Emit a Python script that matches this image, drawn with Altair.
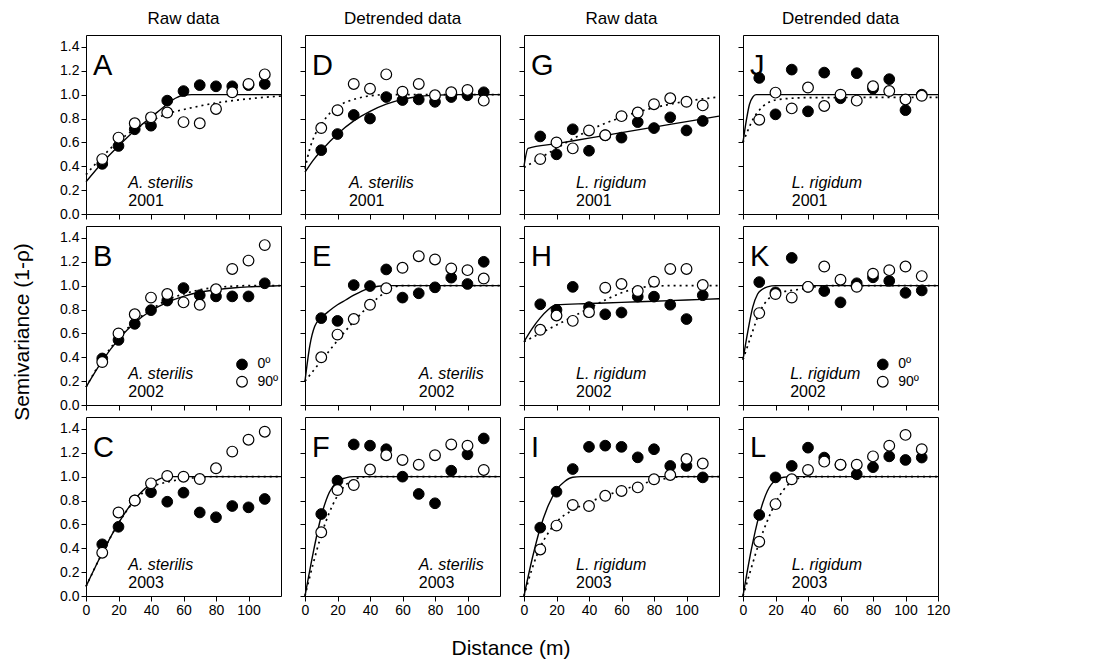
import altair as alt
import pandas as pd

# ---------------- data ----------------
LAGS = [10, 20, 30, 40, 50, 60, 70, 80, 90, 100, 110]

A_FILLED = [0.42, 0.57, 0.71, 0.74, 0.95, 1.03, 1.08, 1.07, 1.07, 1.08, 1.09]
A_OPEN = [0.46, 0.64, 0.76, 0.81, 0.85, 0.77, 0.76, 0.88, 1.02, 1.09, 1.17]
A_SOLID = [(0, 0.27), (10, 0.43), (20, 0.57), (30, 0.70), (40, 0.81), (50, 0.92), (55, 0.97), (60, 0.995), (65, 1.0), (120, 1.0)]
A_DOTTED = [(0, 0.33), (10, 0.48), (20, 0.61), (30, 0.71), (40, 0.78), (50, 0.84), (60, 0.875), (70, 0.905), (80, 0.93), (90, 0.95), (100, 0.965), (110, 0.978), (120, 0.988)]

B_FILLED = [0.39, 0.545, 0.68, 0.795, 0.875, 0.98, 0.92, 0.91, 0.91, 0.91, 1.02]
B_OPEN = [0.36, 0.60, 0.76, 0.90, 0.93, 0.86, 0.84, 0.97, 1.14, 1.21, 1.34]
B_SOLID = [(0, 0.15), (10, 0.37), (20, 0.55), (30, 0.69), (40, 0.79), (50, 0.86), (60, 0.91), (70, 0.945), (80, 0.965), (90, 0.98), (100, 0.99), (110, 0.995), (120, 1.0)]
B_DOTTED = [(0, 0.15), (10, 0.38), (20, 0.56), (30, 0.70), (40, 0.80), (50, 0.88), (60, 0.93), (70, 0.965), (80, 0.985), (90, 0.995), (100, 1.0), (120, 1.0)]

C_FILLED = [0.433, 0.58, 0.80, 0.87, 0.79, 0.866, 0.70, 0.66, 0.754, 0.743, 0.813]
C_OPEN = [0.363, 0.70, 0.80, 0.944, 1.006, 1.0, 0.98, 1.07, 1.21, 1.31, 1.377]
C_SOLID = [(0, 0.08), (10, 0.36), (20, 0.61), (30, 0.81), (40, 0.94), (45, 0.98), (50, 1.0), (120, 1.0)]
C_DOTTED = [(0, 0.08), (10, 0.36), (20, 0.61), (30, 0.80), (40, 0.91), (50, 0.955), (60, 0.98), (70, 0.995), (80, 1.0), (120, 1.0)]

D_FILLED = [0.535, 0.67, 0.83, 0.80, 0.98, 0.955, 0.96, 0.94, 0.98, 0.995, 1.02]
D_OPEN = [0.72, 0.87, 1.09, 1.05, 1.17, 1.025, 1.09, 0.995, 1.02, 1.04, 0.95]
D_SOLID = [(0, 0.35), (5, 0.45), (10, 0.53), (20, 0.67), (30, 0.78), (40, 0.86), (50, 0.92), (60, 0.96), (70, 0.985), (80, 0.995), (90, 1.0), (120, 1.0)]
D_DOTTED = [(0, 0.38), (3, 0.55), (6, 0.66), (10, 0.75), (15, 0.84), (20, 0.9), (30, 0.96), (40, 0.99), (50, 1.0), (120, 1.0)]

E_FILLED = [0.728, 0.705, 1.005, 0.997, 1.136, 0.90, 0.936, 0.986, 1.067, 1.014, 1.2]
E_OPEN = [0.40, 0.59, 0.72, 0.84, 0.978, 1.15, 1.247, 1.22, 1.144, 1.13, 1.06]
E_SOLID = [(0, 0.2), (3, 0.5), (6, 0.66), (10, 0.73), (15, 0.79), (20, 0.84), (25, 0.88), (30, 0.92), (35, 0.955), (40, 0.98), (45, 0.995), (50, 1.0), (120, 1.0)]
E_DOTTED = [(0, 0.2), (10, 0.37), (20, 0.54), (30, 0.70), (40, 0.84), (50, 0.95), (55, 0.99), (60, 1.0), (120, 1.0)]

F_FILLED = [0.687, 0.966, 1.27, 1.26, 1.23, 1.0, 0.855, 0.777, 1.05, 1.187, 1.32]
F_OPEN = [0.534, 0.888, 0.93, 1.06, 1.18, 1.14, 1.10, 1.18, 1.27, 1.26, 1.056]
F_SOLID = [(0, 0.0), (5, 0.36), (10, 0.67), (15, 0.87), (20, 0.96), (25, 0.99), (30, 1.0), (120, 1.0)]
F_DOTTED = [(0, 0.0), (5, 0.27), (10, 0.51), (15, 0.70), (20, 0.84), (25, 0.93), (30, 0.975), (35, 0.995), (40, 1.0), (120, 1.0)]

G_FILLED = [0.65, 0.50, 0.71, 0.53, 0.66, 0.64, 0.77, 0.72, 0.81, 0.70, 0.78]
G_OPEN = [0.46, 0.60, 0.55, 0.70, 0.66, 0.82, 0.85, 0.92, 0.97, 0.94, 0.91]
G_SOLID = [(0, 0.40), (2.5, 0.55), (20, 0.59), (40, 0.636), (60, 0.682), (80, 0.728), (100, 0.774), (120, 0.82)]
G_DOTTED = [(0, 0.39), (10, 0.47), (20, 0.55), (30, 0.63), (40, 0.70), (50, 0.76), (60, 0.81), (70, 0.855), (80, 0.89), (90, 0.92), (100, 0.945), (110, 0.965), (120, 0.98)]

H_FILLED = [0.844, 0.797, 0.99, 0.82, 0.76, 0.775, 0.908, 0.908, 0.84, 0.72, 0.92]
H_OPEN = [0.63, 0.75, 0.705, 0.778, 0.983, 1.014, 0.955, 1.033, 1.14, 1.14, 1.005]
H_SOLID = [(0, 0.53), (5, 0.64), (10, 0.73), (15, 0.80), (18, 0.83), (20, 0.84), (40, 0.85), (60, 0.86), (80, 0.87), (100, 0.88), (120, 0.89)]
H_DOTTED = [(0, 0.53), (10, 0.60), (20, 0.67), (30, 0.74), (40, 0.81), (50, 0.88), (60, 0.94), (70, 0.98), (80, 0.995), (90, 1.0), (120, 1.0)]

I_FILLED = [0.573, 0.874, 1.064, 1.25, 1.26, 1.25, 1.162, 1.23, 1.09, 1.09, 0.994]
I_OPEN = [0.39, 0.59, 0.763, 0.754, 0.84, 0.88, 0.91, 0.978, 1.014, 1.148, 1.11]
I_SOLID = [(0, 0.0), (5, 0.31), (10, 0.57), (15, 0.76), (20, 0.89), (25, 0.96), (30, 0.995), (35, 1.0), (120, 1.0)]
I_DOTTED = [(0, 0.0), (5, 0.23), (10, 0.41), (15, 0.53), (20, 0.62), (30, 0.72), (40, 0.785), (50, 0.84), (60, 0.885), (70, 0.93), (80, 0.965), (90, 0.99), (100, 1.0), (120, 1.0)]

J_FILLED = [1.14, 0.835, 1.21, 0.86, 1.185, 0.97, 1.18, 1.05, 1.13, 0.87, 1.0]
J_OPEN = [0.79, 1.017, 0.885, 1.06, 0.905, 1.0, 0.95, 1.07, 1.03, 0.96, 0.99]
J_SOLID = [(0, 0.60), (2, 0.78), (4, 0.92), (6, 0.98), (8, 1.0), (120, 1.0)]
J_DOTTED = [(0, 0.60), (3, 0.70), (6, 0.79), (10, 0.87), (15, 0.93), (20, 0.955), (30, 0.97), (40, 0.975), (120, 0.978)]

K_FILLED = [1.03, 0.944, 1.233, 0.99, 0.955, 0.86, 1.02, 1.07, 1.04, 0.94, 0.96]
K_OPEN = [0.77, 0.93, 0.90, 0.99, 1.16, 1.05, 0.99, 1.10, 1.13, 1.16, 1.08]
K_SOLID = [(0, 0.38), (3, 0.62), (6, 0.82), (9, 0.93), (12, 0.97), (15, 0.99), (20, 1.0), (120, 1.0)]
K_DOTTED = [(0, 0.38), (5, 0.58), (10, 0.77), (15, 0.88), (20, 0.93), (25, 0.95), (30, 0.96), (40, 0.98), (50, 1.0), (120, 1.0)]

L_FILLED = [0.679, 0.994, 1.09, 1.243, 1.16, 1.1, 1.02, 1.08, 1.17, 1.14, 1.16]
L_OPEN = [0.455, 0.77, 0.978, 1.056, 1.126, 1.1, 1.1, 1.17, 1.26, 1.35, 1.23]
L_SOLID = [(0, 0.0), (5, 0.38), (10, 0.68), (15, 0.88), (20, 0.97), (25, 0.995), (30, 1.0), (120, 1.0)]
L_DOTTED = [(0, 0.0), (5, 0.23), (10, 0.45), (15, 0.63), (20, 0.78), (25, 0.89), (30, 0.96), (35, 0.99), (40, 1.0), (120, 1.0)]

COLUMN_TITLES = ["Raw data", "Detrended data", "Raw data", "Detrended data"]
SPECIES = ["A. sterilis", "A. sterilis", "L. rigidum", "L. rigidum"]
YEARS = ["2001", "2002", "2003"]
LETTERS = [["A", "D", "G", "J"], ["B", "E", "H", "K"], ["C", "F", "I", "L"]]
# horizontal start (m) of the species/year label in each panel
LABEL_X = {"A": 26, "B": 26, "C": 26, "D": 27, "E": 70, "F": 70,
           "G": 32, "H": 32, "I": 32, "J": 30, "K": 29, "L": 30}
LEGEND_LABELS = ["0º", "90º"]
# legend circle x (m) for panels B and K, and y values of the two rows
LEGEND_X = {"B": 96, "K": 86}
LEGEND_Y = [0.34, 0.195]
X_TICKS = [0, 20, 40, 60, 80, 100]
X_TICKS_LAST = [0, 20, 40, 60, 80, 100, 120]
Y_TICKS = [0.0, 0.2, 0.4, 0.6, 0.8, 1.0, 1.2, 1.4]
Y_TITLE = "Semivariance (1-ρ)"
X_TITLE = "Distance (m)"

PANEL_DATA = {
    "A": (A_FILLED, A_OPEN, A_SOLID, A_DOTTED), "B": (B_FILLED, B_OPEN, B_SOLID, B_DOTTED),
    "C": (C_FILLED, C_OPEN, C_SOLID, C_DOTTED), "D": (D_FILLED, D_OPEN, D_SOLID, D_DOTTED),
    "E": (E_FILLED, E_OPEN, E_SOLID, E_DOTTED), "F": (F_FILLED, F_OPEN, F_SOLID, F_DOTTED),
    "G": (G_FILLED, G_OPEN, G_SOLID, G_DOTTED), "H": (H_FILLED, H_OPEN, H_SOLID, H_DOTTED),
    "I": (I_FILLED, I_OPEN, I_SOLID, I_DOTTED), "J": (J_FILLED, J_OPEN, J_SOLID, J_DOTTED),
    "K": (K_FILLED, K_OPEN, K_SOLID, K_DOTTED), "L": (L_FILLED, L_OPEN, L_SOLID, L_DOTTED),
}

# ---------------- styling ----------------
FONT = "Liberation Sans"
PW, PH = 195, 179
PT_SIZE = 115
TICK_FS = 14


def panel(r, c):
    letter = LETTERS[r][c]
    filled, opened, solid, dotted = PANEL_DATA[letter]
    xaxis = alt.Axis(values=X_TICKS_LAST if c == 3 else X_TICKS, labels=(r == 2), title=None,
                     grid=False, domain=False, tickSize=5, labelFlush=False, labelFontSize=TICK_FS,
                     labelPadding=2, labelFont=FONT, labelColor="black", tickColor="black")
    yaxis = alt.Axis(values=Y_TICKS, labels=(c == 0), format=".1f", title=None, grid=False,
                     domain=False, tickSize=5, labelFontSize=TICK_FS, labelPadding=2, labelFont=FONT,
                     labelColor="black", tickColor="black")
    X = alt.X("x:Q", scale=alt.Scale(domain=[0, 120], nice=False, zero=False), axis=xaxis)
    Y = alt.Y("y:Q", scale=alt.Scale(domain=[0, 1.5], nice=False, zero=False), axis=yaxis)

    solid_df = pd.DataFrame(solid, columns=["x", "y"])
    dotted_df = pd.DataFrame(dotted, columns=["x", "y"])
    filled_df = pd.DataFrame({"x": LAGS, "y": filled})
    open_df = pd.DataFrame({"x": LAGS, "y": opened})

    layers = [
        alt.Chart(solid_df).mark_line(color="black", strokeWidth=1.4, interpolate="monotone").encode(x=X, y=Y),
        alt.Chart(dotted_df).mark_line(color="black", strokeWidth=1.7, strokeDash=[2, 4],
                                       interpolate="monotone").encode(x=X, y=Y),
        alt.Chart(filled_df).mark_point(shape="circle", size=PT_SIZE, filled=True, fill="black",
                                        stroke="black", strokeWidth=1, opacity=1).encode(x=X, y=Y),
        alt.Chart(open_df).mark_point(shape="circle", size=PT_SIZE, filled=True, fill="white",
                                      stroke="black", strokeWidth=1.2, opacity=1).encode(x=X, y=Y),
        alt.Chart(pd.DataFrame({"t": [letter]})).mark_text(
            align="left", baseline="alphabetic", fontSize=29, font=FONT, color="black"
        ).encode(x=alt.value(7), y=alt.value(40), text="t:N"),
    ]
    sx = LABEL_X[letter]
    layers.append(alt.Chart(pd.DataFrame({"x": [sx], "y": [0.215], "t": [SPECIES[c]]})).mark_text(
        align="left", baseline="alphabetic", fontSize=16, font=FONT, fontStyle="italic", color="black"
    ).encode(x=X, y=Y, text="t:N"))
    layers.append(alt.Chart(pd.DataFrame({"x": [sx], "y": [0.065], "t": [YEARS[r]]})).mark_text(
        align="left", baseline="alphabetic", fontSize=16, font=FONT, color="black"
    ).encode(x=X, y=Y, text="t:N"))

    if letter in LEGEND_X:
        lx = LEGEND_X[letter]
        lf = pd.DataFrame({"x": [lx], "y": [LEGEND_Y[0]]})
        lo = pd.DataFrame({"x": [lx], "y": [LEGEND_Y[1]]})
        lt = pd.DataFrame({"x": [lx + 9.5, lx + 9.5], "y": LEGEND_Y, "t": LEGEND_LABELS})
        layers += [
            alt.Chart(lf).mark_point(shape="circle", size=PT_SIZE, filled=True, fill="black",
                                     stroke="black", strokeWidth=1, opacity=1).encode(x=X, y=Y),
            alt.Chart(lo).mark_point(shape="circle", size=PT_SIZE, filled=True, fill="white",
                                     stroke="black", strokeWidth=1.2, opacity=1).encode(x=X, y=Y),
            alt.Chart(lt).mark_text(align="left", baseline="middle", fontSize=14, font=FONT,
                                    color="black").encode(x=X, y=Y, text="t:N"),
        ]

    ch = alt.layer(*layers).properties(width=PW, height=PH)
    if r == 0:
        ch = ch.properties(title=alt.TitleParams(text=COLUMN_TITLES[c], fontSize=17, fontWeight="normal",
                                                 font=FONT, color="black", offset=7, anchor="middle"))
    return ch


rows = [alt.hconcat(*[panel(r, c) for c in range(4)], spacing=14) for r in range(3)]

xtitle = alt.Chart(pd.DataFrame({"t": [X_TITLE]})).mark_text(
    align="center", baseline="middle", fontSize=21, font=FONT, color="black"
).encode(x=alt.value(425), y=alt.value(27), text="t:N").properties(
    width=840, height=40, view=alt.ViewBackground(stroke="transparent"))

grid = alt.vconcat(*rows, xtitle, spacing=3)

ytitle = alt.Chart(pd.DataFrame({"t": [Y_TITLE]})).mark_text(
    align="center", baseline="middle", fontSize=21, font=FONT, color="black", angle=270
).encode(x=alt.value(17), y=alt.value(297), text="t:N").properties(
    width=52, height=560, view=alt.ViewBackground(stroke="transparent"))

chart = alt.hconcat(ytitle, grid, spacing=0).properties(
    padding={"left": 5, "top": 9, "right": 5, "bottom": 2},
    background="white",
).configure_view(stroke="black", strokeWidth=1)

chart.save("out.html", embed_options={"renderer": "svg", "actions": False})
